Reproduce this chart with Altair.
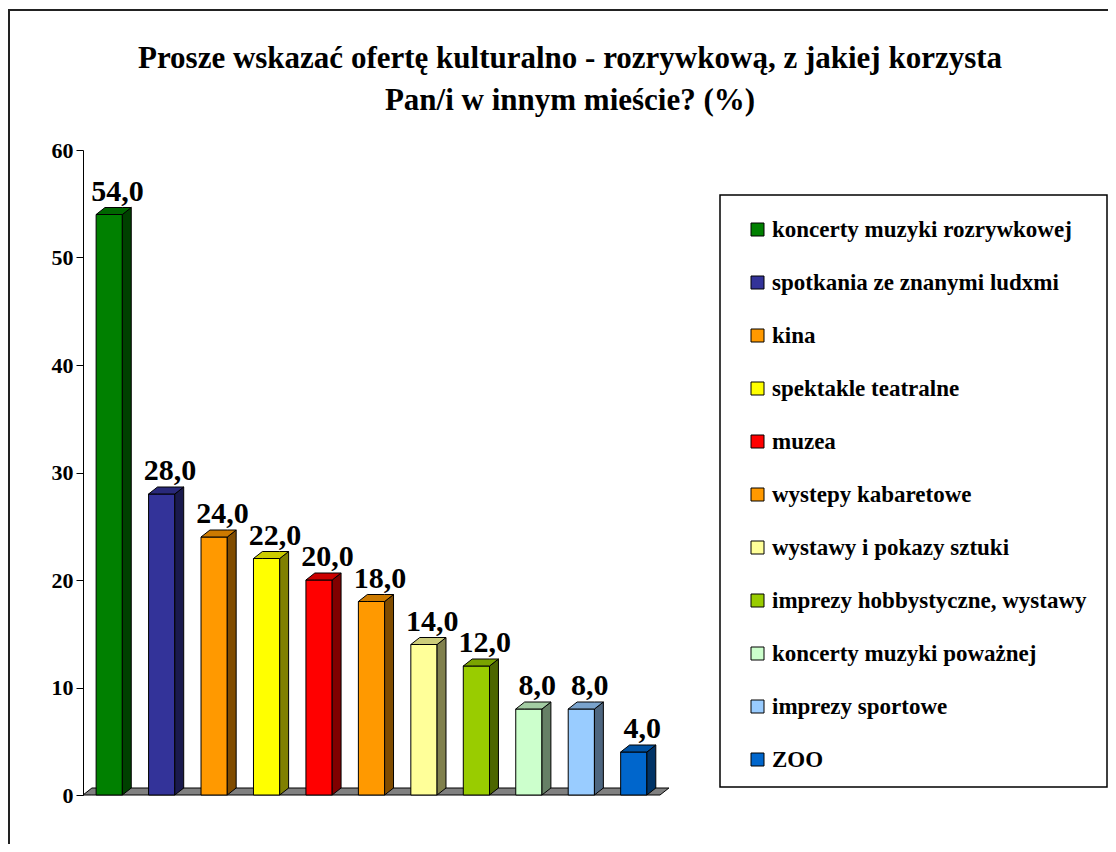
import altair as alt
import pandas as pd

categories = ["koncerty muzyki rozrywkowej", "spotkania ze znanymi ludxmi", "kina",
              "spektakle teatralne", "muzea", "wystepy kabaretowe",
              "wystawy i pokazy sztuki", "imprezy hobbystyczne, wystawy",
              "koncerty muzyki poważnej", "imprezy sportowe", "ZOO"]
values = [54.0, 28.0, 24.0, 22.0, 20.0, 18.0, 14.0, 12.0, 8.0, 8.0, 4.0]
front_colors = ["#008000", "#333399", "#FF9900", "#FFFF00", "#FF0000", "#FF9900",
                "#FFFF99", "#99CC00", "#CCFFCC", "#99CCFF", "#0066CC"]
side_colors = ["#004000", "#1A1A4D", "#804C00", "#808000", "#800000", "#804C00",
               "#80804D", "#4D6600", "#668066", "#4D6680", "#003366"]
top_colors = ["#006600", "#29297A", "#CC7A00", "#CCCC00", "#CC0000", "#CC7A00",
              "#CCCC7A", "#7AA300", "#A3CCA3", "#7AA3CC", "#0052A3"]
y_ticks = [0, 10, 20, 30, 40, 50, 60]
title_lines = ["Prosze wskazać ofertę kulturalno - rozrywkową, z jakiej korzysta",
               "Pan/i w innym mieście? (%)"]

FONT = "Liberation Serif"
DX = 0.17   # depth in x units
DY = 0.65   # depth in y units
W, H = 577, 645

front = pd.DataFrame({
    "cat": categories,
    "value": values,
    "x0": [i + 0.25 for i in range(len(values))],
    "x1": [i + 0.75 for i in range(len(values))],
    "lx": [i + 0.66 for i in range(len(values))],
    "ly": [v + DY for v in values],
    "label": [f"{v:.1f}".replace(".", ",") for v in values],
})

side_rows, top_rows = [], []
for i, (c, v) in enumerate(zip(categories, values)):
    l, r = i + 0.25, i + 0.75
    side_rows += [
        {"cat": c, "col": side_colors[i], "x": r, "y": 0, "y2": v},
        {"cat": c, "col": side_colors[i], "x": r + DX, "y": DY, "y2": v + DY},
    ]
    top_rows += [
        {"cat": c, "col": top_colors[i], "x": l, "y": v, "y2": v},
        {"cat": c, "col": top_colors[i], "x": l + DX, "y": v, "y2": v + DY},
        {"cat": c, "col": top_colors[i], "x": r, "y": v, "y2": v + DY},
        {"cat": c, "col": top_colors[i], "x": r + DX, "y": v + DY, "y2": v + DY},
    ]
side = pd.DataFrame(side_rows)
top = pd.DataFrame(top_rows)
n = len(values)
floor = pd.DataFrame({"x": [0, DX, n, n + DX], "y": [0, 0, 0, DY], "y2": [0, DY, DY, DY]})

xs = alt.Scale(domain=[0, n], nice=False, zero=False)
ys = alt.Scale(domain=[0, 60], nice=False)

yaxis = alt.Axis(values=y_ticks, labelFont=FONT, labelFontSize=22, labelFontWeight="bold",
                 labelColor="black", tickColor="black", domainColor="black", tickSize=7,
                 labelPadding=3, grid=False, title=None, format="d")

floor_layer = alt.Chart(floor).mark_area(color="#808080", stroke="black", strokeWidth=1).encode(
    x=alt.X("x:Q", scale=xs, axis=None),
    y=alt.Y("y:Q", scale=ys, axis=yaxis, stack=None),
    y2="y2:Q",
)

side_layer = alt.Chart(side).mark_area(stroke="black", strokeWidth=1).encode(
    x=alt.X("x:Q", scale=xs, axis=None),
    y=alt.Y("y:Q", scale=ys, stack=None),
    y2="y2:Q",
    fill=alt.Fill("col:N", scale=None),
    detail="cat:N",
)

top_layer = alt.Chart(top).mark_area(stroke="black", strokeWidth=1).encode(
    x=alt.X("x:Q", scale=xs, axis=None),
    y=alt.Y("y:Q", scale=ys, stack=None),
    y2="y2:Q",
    fill=alt.Fill("col:N", scale=None),
    detail="cat:N",
)

front_layer = alt.Chart(front).mark_rect(stroke="black", strokeWidth=1).encode(
    x=alt.X("x0:Q", scale=xs, axis=None),
    x2="x1:Q",
    y=alt.Y("value:Q", scale=ys),
    y2=alt.datum(0),
    color=alt.Color("cat:N", scale=alt.Scale(domain=categories, range=front_colors),
                    sort=categories,
                    legend=alt.Legend(title=None, orient="none", legendX=663, legendY=68,
                                      symbolType="square", symbolSize=169,
                                      symbolStrokeColor="black", symbolStrokeWidth=1,
                                      labelFont=FONT, labelFontSize=23, labelFontWeight="bold",
                                      labelColor="black", labelOffset=3, rowPadding=29,
                                      labelLimit=450, padding=0)),
)

label_layer = alt.Chart(front).mark_text(font=FONT, fontSize=30, fontWeight="bold",
                                         color="black", baseline="alphabetic", dy=-7).encode(
    x=alt.X("lx:Q", scale=xs, axis=None),
    y=alt.Y("ly:Q", scale=ys),
    text="label:N",
)

one = pd.DataFrame({"a": [0]})
title_layer = alt.Chart(one).mark_text(text=title_lines, font=FONT, fontSize=31,
                                       fontWeight="bold", color="black", align="center",
                                       baseline="middle", lineHeight=42).encode(
    x=alt.value(487), y=alt.value(-91))
legend_box = alt.Chart(one).mark_rect(fill="white", fillOpacity=0, stroke="black",
                                      strokeWidth=1.5).encode(
    x=alt.value(637), x2=alt.value(1024), y=alt.value(45), y2=alt.value(637))
border_left = alt.Chart(one).mark_rule(color="#222222", strokeWidth=2).encode(
    x=alt.value(-74), y=alt.value(-140), y2=alt.value(702))
border_top = alt.Chart(one).mark_rule(color="#222222", strokeWidth=2).encode(
    x=alt.value(-75), x2=alt.value(1030), y=alt.value(-140))

chart = alt.layer(
    legend_box, border_left, border_top, title_layer,
    floor_layer, front_layer, side_layer, top_layer, label_layer,
).properties(
    width=W, height=H,
    autosize=alt.AutoSizeParams(type="none"),
    padding={"left": 75, "top": 142, "right": 448, "bottom": 49},
    background="white",
).configure_view(stroke=None)

chart.save("out.html", embed_options={"renderer": "svg", "actions": False})
